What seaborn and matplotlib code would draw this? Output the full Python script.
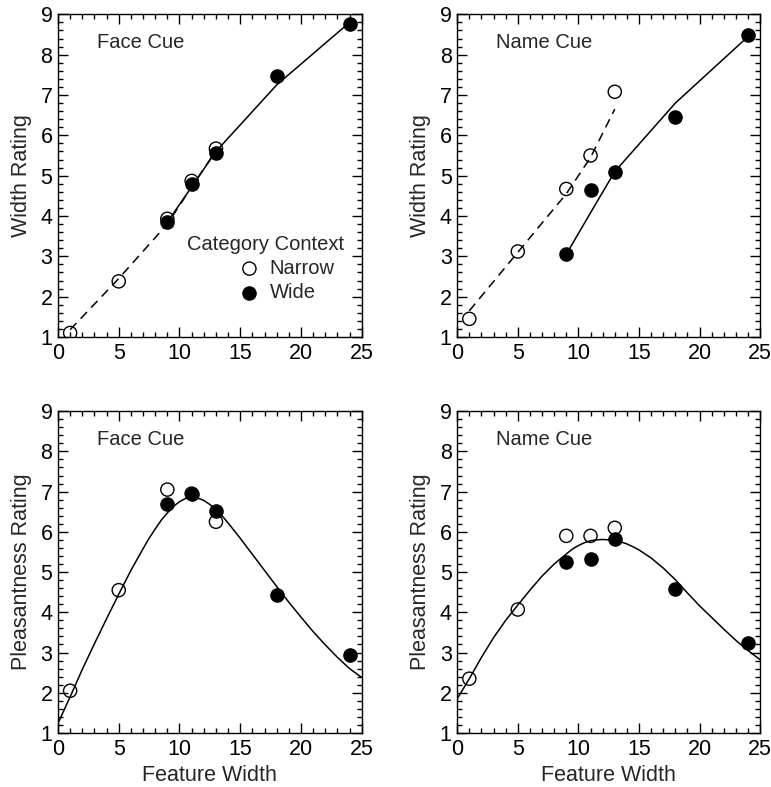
import numpy as np
import matplotlib
matplotlib.use("Agg")
import matplotlib.pyplot as plt
from matplotlib.ticker import MultipleLocator
import seaborn as sns

# stimulus feature widths
narrow_x = [1, 5, 9, 11, 13]
wide_x = [9, 11, 13, 18, 24]

# observed width ratings
face_width_narrow = [1.1, 2.38, 3.93, 4.87, 5.67]
face_width_wide = [3.85, 4.8, 5.55, 7.47, 8.75]
name_width_narrow = [1.45, 3.12, 4.67, 5.5, 7.08]
name_width_wide = [3.05, 4.65, 5.1, 6.45, 8.48]

# model predictions for width ratings
face_width_fit_narrow = [1.18, 2.45, 3.8, 4.72, 5.62]
face_width_fit_wide = [3.85, 4.72, 5.6, 7.25, 8.8]
name_width_fit_narrow = [1.65, 3.1, 4.55, 5.45, 6.65]
name_width_fit_wide = [3.05, 4.08, 5.1, 6.8, 8.45]

# observed pleasantness ratings
face_pleas_narrow = [2.05, 4.55, 7.05, 6.95, 6.25]
face_pleas_wide = [6.68, 6.93, 6.52, 4.42, 2.95]
name_pleas_narrow = [2.35, 4.07, 5.9, 5.9, 6.1]
name_pleas_wide = [5.25, 5.33, 5.83, 4.57, 3.23]

# fitted pleasantness curves
face_curve_x = [0, 1, 2, 3, 4, 5, 6, 7, 7.5, 8, 8.5, 9, 9.5, 10, 10.5, 11, 11.5, 12,
                12.5, 13, 13.5, 14, 15, 16, 17, 18, 19, 20, 21, 22, 23, 24, 25]
face_pleas_curve = [1.24, 1.9, 2.58, 3.22, 3.84, 4.45, 5.04, 5.58, 5.84, 6.07, 6.29,
                    6.47, 6.63, 6.75, 6.83, 6.86, 6.84, 6.78, 6.68, 6.55, 6.4, 6.22,
                    5.84, 5.44, 5.04, 4.64, 4.25, 3.88, 3.52, 3.19, 2.88, 2.6, 2.38]
name_curve_x = [0, 1, 2, 3, 4, 5, 6, 7, 8, 9, 9.5, 10, 10.5, 11, 11.5, 12, 12.5, 13,
                13.5, 14, 14.5, 15, 16, 17, 18, 19, 20, 21, 22, 23, 24, 25]
name_pleas_curve = [1.85, 2.35, 2.88, 3.37, 3.8, 4.18, 4.55, 4.9, 5.2, 5.45, 5.57,
                    5.66, 5.73, 5.78, 5.8, 5.81, 5.8, 5.78, 5.75, 5.7, 5.63, 5.55,
                    5.35, 5.1, 4.81, 4.48, 4.16, 3.87, 3.58, 3.3, 3.05, 2.82]

sns.set_style("ticks")
plt.rcParams["font.family"] = ["Liberation Sans", "DejaVu Sans"]

fig = plt.figure(figsize=(7.71, 7.87), dpi=100)
ax_tl = fig.add_axes([0.0752, 0.5718, 0.394, 0.410])
ax_tr = fig.add_axes([0.593, 0.5718, 0.393, 0.410])
ax_bl = fig.add_axes([0.0752, 0.0686, 0.394, 0.409])
ax_br = fig.add_axes([0.593, 0.0686, 0.393, 0.409])

dash = (0, (6, 4))
lw = 1.1
ms = 90


def draw_points(ax, yn, yw):
    sns.scatterplot(x=narrow_x, y=yn, ax=ax, s=ms, marker="o", facecolor="none",
                    edgecolor="black", linewidth=1.0, label="Narrow", zorder=3, legend=False)
    sns.scatterplot(x=wide_x, y=yw, ax=ax, s=ms, marker="o", color="black",
                    edgecolor="black", linewidth=1.0, label="Wide", zorder=4, legend=False)


def style_axes(ax, cue, ylabel, xlabel=None):
    ax.set_xlim(0, 25)
    ax.set_ylim(1, 9)
    ax.xaxis.set_major_locator(MultipleLocator(5))
    ax.xaxis.set_minor_locator(MultipleLocator(1))
    ax.yaxis.set_major_locator(MultipleLocator(1))
    ax.yaxis.set_minor_locator(MultipleLocator(0.2))
    ax.tick_params(which="both", direction="in", top=True, right=True, width=1.0,
                   labelsize=15.5, colors="black")
    ax.tick_params(which="major", length=7, pad=4)
    ax.tick_params(which="minor", length=3.5)
    for sp in ax.spines.values():
        sp.set_linewidth(1.0)
        sp.set_color("black")
    ax.set_ylabel(ylabel, fontsize=15.5, labelpad=6)
    ax.set_xlabel(xlabel if xlabel else "", fontsize=15.5, labelpad=4)
    ax.text(0.128, 0.913, cue, transform=ax.transAxes, fontsize=14.5, va="center", ha="left")


# top row: width ratings
for ax, fn, fw, yn, yw, cue in [
    (ax_tl, face_width_fit_narrow, face_width_fit_wide, face_width_narrow, face_width_wide, "Face Cue"),
    (ax_tr, name_width_fit_narrow, name_width_fit_wide, name_width_narrow, name_width_wide, "Name Cue"),
]:
    sns.lineplot(x=narrow_x, y=fn, ax=ax, color="black", linewidth=lw, linestyle=dash,
                 sort=False, errorbar=None, zorder=2)
    sns.lineplot(x=wide_x, y=fw, ax=ax, color="black", linewidth=lw, sort=False,
                 errorbar=None, zorder=2)
    draw_points(ax, yn, yw)
    style_axes(ax, cue, "Width Rating")

leg = ax_tl.legend(title="Category Context", loc="lower right", bbox_to_anchor=(0.99, 0.065),
                   frameon=False, fontsize=14.5, title_fontsize=14.5, alignment="right",
                   handletextpad=0.5, labelspacing=0.25, borderpad=0.2, markerscale=1.0)
# entries sit a little left of the title's right edge
for t in leg.get_texts():
    t.set_position((-10, 0))

# bottom row: pleasantness ratings
for ax, cx, curve, yn, yw, cue in [
    (ax_bl, face_curve_x, face_pleas_curve, face_pleas_narrow, face_pleas_wide, "Face Cue"),
    (ax_br, name_curve_x, name_pleas_curve, name_pleas_narrow, name_pleas_wide, "Name Cue"),
]:
    sns.lineplot(x=cx, y=curve, ax=ax, color="black", linewidth=lw, errorbar=None, zorder=2)
    draw_points(ax, yn, yw)
    style_axes(ax, cue, "Pleasantness Rating", "Feature Width")

fig.savefig("out.png", dpi=100)
